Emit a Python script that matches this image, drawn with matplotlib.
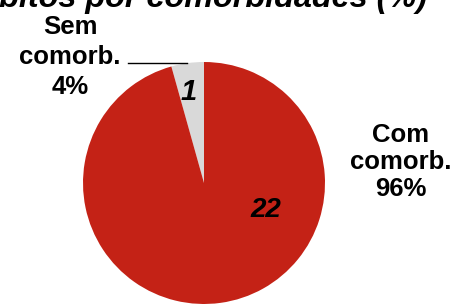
import matplotlib.pyplot as plt

plt.rcParams['font.family'] = ['Liberation Sans', 'DejaVu Sans']

labels = ['Sem\ncomorb.\n4%', 'Com\ncomorb.\n96%']
counts = [1, 22]
colors = ['#D9D9D9', '#C42216']
title = 'Óbitos por comorbidades (%)'

fig = plt.figure(figsize=(4.54, 3.04), dpi=100)
ax = fig.add_axes([83 / 454, 1 - 304 / 304, 242 / 454, 242 / 304])
ax.pie(counts, colors=colors, startangle=90, counterclock=True,
       wedgeprops=dict(linewidth=0))
ax.set_aspect('equal')
ax.set_xlim(-1, 1)
ax.set_ylim(-1, 1)

# numbers inside wedges
ax.text(-0.13, 0.75, str(counts[0]), ha='center', va='center', fontsize=21,
        fontweight='bold', fontstyle='italic')
ax.text(0.51, -0.22, str(counts[1]), ha='center', va='center', fontsize=20,
        fontweight='bold', fontstyle='italic')

fig.text(70 / 454, 1 - 57 / 304, labels[0], ha='center', va='center',
         fontsize=18.5, fontweight='bold', linespacing=1.32)
fig.text(401 / 454, 1 - 162 / 304, labels[1], ha='center', va='center',
         fontsize=18.5, fontweight='bold', linespacing=1.15)
fig.add_artist(plt.Line2D([128 / 454, 187 / 454], [1 - 63 / 304, 1 - 63 / 304],
                          color='black', linewidth=1))

fig.text(200 / 454, 1 - 7 / 304, title, ha='center', va='baseline',
         fontsize=23.3, fontweight='bold', fontstyle='italic')

fig.savefig('out.png', dpi=100)
